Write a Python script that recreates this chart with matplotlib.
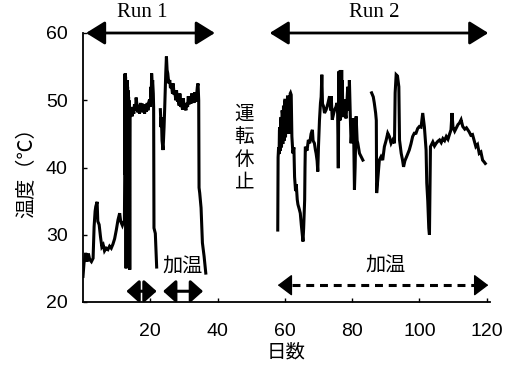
import numpy as np
import matplotlib
matplotlib.use("Agg")
import matplotlib.pyplot as plt

# ---------------- data ----------------
# Run 1, first segment (day, temperature)
run1a_day = [0.0, 0.3, 0.8, 1.2, 1.6, 2.0, 2.5, 3.0, 3.3, 3.6, 3.8, 4.2, 4.4, 4.8,
             5.2, 5.6, 6.0, 6.4, 6.9, 7.4, 7.9, 8.4, 8.9, 9.4, 9.9, 10.4, 10.9,
             11.2, 11.7, 12.1, 12.3,
             12.4, 12.45, 12.5, 12.55, 12.6, 12.65, 12.7, 12.75, 12.8, 12.85,
             12.9, 12.95, 13.0, 13.05, 13.1, 13.15, 13.2, 13.25, 13.3, 13.35,
             13.4, 13.45, 13.5, 13.55, 13.6, 13.65, 13.7, 13.75, 13.8, 13.85,
             13.9, 13.95, 14.0, 14.1, 14.2,
             14.3, 14.6, 14.8, 15.1, 15.3, 15.6, 15.8, 16.1, 16.3, 16.6, 16.8,
             17.1, 17.3, 17.6, 17.8, 18.1, 18.3, 18.6, 18.8, 19.1, 19.3, 19.6,
             19.8, 20.0, 20.2, 20.3, 20.4, 20.6, 20.7, 20.9, 21.0, 21.1, 21.5, 21.9]
run1a_temp = [23.8, 25.8, 27.3, 26.0, 27.2, 26.3, 26.0, 26.5, 31.2, 33.5, 34.2, 34.9,
              32.0, 31.5, 29.7, 28.2, 28.5, 27.6, 28.0, 27.8, 28.3, 28.0, 28.6,
              29.4, 30.7, 32.2, 33.2, 32.0, 31.4, 32.0, 31.5,
              38.2, 53.8, 39.0, 54.0, 40.0, 53.5, 38.5, 53.0, 25.0, 52.0,
              39.0, 53.0, 40.0, 52.5, 38.5, 53.0, 39.5, 52.0, 40.0, 51.5,
              38.0, 51.0, 39.0, 50.5, 37.5, 50.0, 38.5, 49.5, 37.5, 49.0,
              24.8, 48.5, 47.5, 49.0, 47.8,
              48.6, 47.6, 49.0, 48.0, 49.4, 48.5, 50.4, 49.0, 48.2, 49.3, 48.0,
              49.6, 48.4, 49.5, 48.2, 49.4, 48.0, 49.2, 48.3, 49.6, 48.5, 49.8,
              50.1, 49.0, 52.0, 50.5, 54.0, 52.0, 53.0, 51.0, 49.0, 31.0, 30.2, 25.2]

# Run 1, second segment
run1b_day = [23.0, 23.2, 23.3, 23.5, 23.8, 24.1, 24.3, 24.6, 24.8, 25.0, 25.2, 25.5,
             25.8, 26.0, 26.3, 26.6, 26.8, 27.1, 27.3, 27.6, 27.8, 28.1, 28.3,
             28.6, 28.8, 29.1, 29.3, 29.6, 29.8, 30.1, 30.3, 30.6, 30.8, 31.1,
             31.3, 31.6, 31.8, 32.1, 32.3, 32.5, 32.7, 33.0, 33.2, 33.5, 33.7,
             34.0, 34.2, 34.4, 34.5, 34.7, 35.1, 35.5, 36.0, 36.5]
run1b_temp = [48.6, 46.0, 47.5, 44.0, 42.6, 46.0, 49.0, 54.0, 56.5, 54.5, 54.0, 52.5,
              53.0, 51.8, 52.3, 51.0, 52.5, 50.8, 51.2, 50.0, 51.5, 49.8, 50.0,
              49.2, 51.0, 49.0, 49.5, 48.6, 50.3, 48.8, 49.0, 48.5, 49.6, 49.0,
              50.6, 49.4, 50.3, 49.5, 51.0, 49.8, 50.6, 49.6, 51.2, 49.8, 50.4,
              52.0, 52.5, 50.0, 37.0, 36.2, 34.0, 28.8, 26.8, 24.3]

# Run 2, first segment
run2a_day = [57.9, 58.0, 58.15, 58.3, 58.4, 58.5, 58.6, 58.7, 58.8, 58.9, 59.0, 59.1,
             59.2, 59.3, 59.4, 59.5, 59.6, 59.7, 59.8, 59.9, 60.0, 60.1, 60.2,
             60.3, 60.4, 60.5, 60.6, 60.7, 60.8, 60.9, 61.0, 61.1, 61.2, 61.3,
             61.4, 61.5, 61.6, 61.7, 61.9, 62.1, 62.4,
             62.7, 62.9, 63.2, 63.4, 63.7, 63.9, 64.3, 64.6, 64.9, 65.2, 65.4,
             65.6, 65.9, 66.0, 66.1, 66.6, 67.0, 67.4, 67.8, 68.2, 68.4, 68.8,
             69.1, 69.3, 69.6, 69.8, 70.0, 70.3, 70.6, 70.8, 71.0, 71.2, 71.5,
             71.8, 72.3, 72.8, 73.3, 73.6, 73.8, 74.1, 74.5, 74.8, 75.2, 75.5,
             75.7, 75.9, 76.1, 76.2, 76.3, 76.4, 76.5, 76.6, 76.7, 76.8, 76.9,
             77.0, 77.1, 77.2, 77.4, 77.7,
             78.0, 78.2, 78.5, 78.7, 79.0, 79.2, 79.5, 79.7, 80.0, 80.2, 80.5,
             80.7, 80.9, 81.2, 81.5, 81.7, 82.2, 82.7, 83.2]
run2a_temp = [30.7, 41.5, 43.0, 42.0, 45.5, 46.0, 42.5, 43.0, 47.0, 47.5, 43.0, 44.0,
              48.5, 48.0, 43.5, 45.0, 49.0, 49.0, 44.0, 44.5, 50.0, 50.0, 44.5,
              46.0, 49.5, 49.5, 45.0, 45.5, 50.5, 50.5, 45.0, 46.5, 50.0, 50.0,
              45.5, 45.0, 51.0, 51.1, 50.8, 44.6, 42.1,
              43.0, 38.6, 36.5, 37.5, 35.2, 34.5, 33.8, 33.2, 31.5, 30.0, 29.0,
              31.0, 35.2, 40.0, 43.1, 42.5, 44.1, 43.6, 45.0, 45.6, 44.0, 43.6,
              42.6, 42.1, 41.0, 39.4, 43.0, 47.0, 49.6, 50.5, 53.8, 49.5, 49.1,
              48.1, 48.6, 49.5, 50.6, 48.5, 50.6, 47.1, 48.0, 48.6, 49.0, 49.6,
              48.0, 39.9, 54.3, 47.5, 54.0, 47.0, 54.5, 48.5, 54.0, 48.0, 54.5,
              47.5, 53.0, 49.0, 47.5, 50.1,
              48.0, 47.3, 50.0, 52.0, 48.5, 53.0, 47.0, 43.6, 46.0, 47.3, 44.0,
              36.7, 40.0, 47.6, 44.0, 43.6, 42.1, 41.6, 41.1]

# Run 2, second segment
run2b_day = [85.8, 86.3, 86.6, 87.0, 87.2, 87.3, 87.6, 88.1, 88.6, 89.1, 89.6, 90.1,
             90.6, 91.1, 91.6, 92.1, 92.6, 92.8, 93.1, 93.5, 93.9, 94.1, 94.6,
             95.0, 95.3, 95.7, 96.2, 97.0, 97.5, 98.0, 98.5, 99.0, 99.5, 100.0,
             100.5, 101.0, 101.5, 102.0, 102.2, 102.5, 102.8, 103.0, 103.3,
             104.0, 104.5, 105.0, 105.5, 106.0, 106.5, 107.0, 107.5, 108.0,
             108.5, 109.0, 109.4, 109.7, 110.0, 110.5, 110.9, 111.5, 111.9,
             112.4, 112.9, 113.5, 114.0, 114.8, 115.3, 115.8, 116.3, 116.8,
             117.3, 117.8, 118.3, 118.8, 119.3, 119.6]
run2b_temp = [51.1, 50.5, 49.6, 48.1, 47.0, 36.2, 38.0, 41.1, 41.6, 41.1, 43.1, 44.0,
              45.1, 44.6, 43.6, 44.1, 43.6, 51.1, 53.8, 53.6, 52.0, 44.1, 42.1,
              41.1, 40.1, 41.0, 41.6, 42.6, 43.5, 44.6, 45.1, 45.1, 45.8, 46.1,
              46.0, 48.1, 46.0, 42.6, 37.7, 35.0, 31.0, 30.0, 43.1,
              43.8, 43.2, 43.6, 43.9, 44.1, 43.7, 44.3, 44.0, 44.6,
              44.2, 45.0, 45.6, 48.1, 46.0, 45.4, 45.8, 46.4, 46.6,
              47.1, 46.1, 45.7, 45.9, 45.3, 44.8, 44.9, 44.0, 43.1,
              43.4, 42.1, 42.3, 41.1, 40.8, 40.6]

x_ticks = [20, 40, 60, 80, 100, 120]
y_ticks = [20, 30, 40, 50, 60]

# ---------------- figure ----------------
SANS = "Liberation Sans"
SERIF = "Liberation Serif"
CJK = ["Noto Sans CJK JP", "DejaVu Sans"]

fig = plt.figure(figsize=(5.06, 3.66), dpi=100)
ax = fig.add_axes([83 / 506, 1 - 302 / 366, (490 - 83) / 506, (302 - 33) / 366])

for d, t in [(run1a_day, run1a_temp), (run1b_day, run1b_temp),
             (run2a_day, run2a_temp), (run2b_day, run2b_temp)]:
    ax.plot(d, t, color="black", lw=2.2, solid_joinstyle="miter")

ax.set_xlim(0, 121)
ax.set_ylim(20, 60)
ax.spines["top"].set_visible(False)
ax.spines["right"].set_visible(False)
ax.spines["left"].set_linewidth(1.3)
ax.spines["bottom"].set_linewidth(1.3)
ax.set_xticks(x_ticks)
ax.set_yticks(y_ticks)
ax.tick_params(axis="x", direction="in", length=3, width=1, pad=15)
ax.tick_params(axis="y", direction="in", length=3, width=1, pad=11)
for lab in ax.get_xticklabels() + ax.get_yticklabels():
    lab.set_fontfamily(SANS)
    lab.set_fontsize(14)

ax.set_xlabel("日数", family=CJK, fontsize=14, labelpad=1)
ax.set_ylabel("温度（℃）", family=CJK, fontsize=14.5, labelpad=6)


def darrow(x0, x1, y, hl, hw, lw=2.0):
    ax.annotate("", xy=(x1, y), xytext=(x0, y), xycoords="data",
                arrowprops=dict(arrowstyle=f"<|-|>,head_length={hl},head_width={hw}",
                                color="black", lw=lw, mutation_scale=20,
                                shrinkA=0, shrinkB=0),
                annotation_clip=False)


# Run arrows
darrow(0.9, 39.2, 60, 0.58, 0.36, lw=2.0)
darrow(55.5, 120.5, 60, 0.58, 0.36, lw=2.0)
ax.text(17.6, 63.0, "Run 1", family=SERIF, fontsize=15, ha="center", va="center",
        clip_on=False)
ax.text(86.6, 63.0, "Run 2", family=SERIF, fontsize=15, ha="center", va="center",
        clip_on=False)

# heating arrows (run 1)
darrow(12.9, 21.9, 21.6, 0.38, 0.34, lw=2.2)
darrow(23.8, 35.7, 21.6, 0.38, 0.34, lw=2.2)
ax.text(29.5, 25.3, "加温", family=CJK, fontsize=14.5, ha="center", va="center")
ax.text(90, 25.4, "加温", family=CJK, fontsize=14.5, ha="center", va="center")

# dashed heating arrow (run 2)
ax.plot([62.0, 116.6], [22.5, 22.5], color="black", lw=2.2, ls=(0, (2.6, 1.9)),
        clip_on=False, solid_capstyle="butt", dash_capstyle="butt")
for xa, xb in [(61.5, 57.9), (117.0, 120.5)]:
    ax.annotate("", xy=(xb, 22.5), xytext=(xa, 22.5),
                arrowprops=dict(arrowstyle="-|>,head_length=0.45,head_width=0.34",
                                color="black", lw=1.0, mutation_scale=20,
                                shrinkA=0, shrinkB=0),
                annotation_clip=False)

ax.text(48.0, 42.9, "運\n転\n休\n止", family=CJK, fontsize=14, ha="center",
        va="center", linespacing=1.1)

fig.savefig("out.png", dpi=100)
